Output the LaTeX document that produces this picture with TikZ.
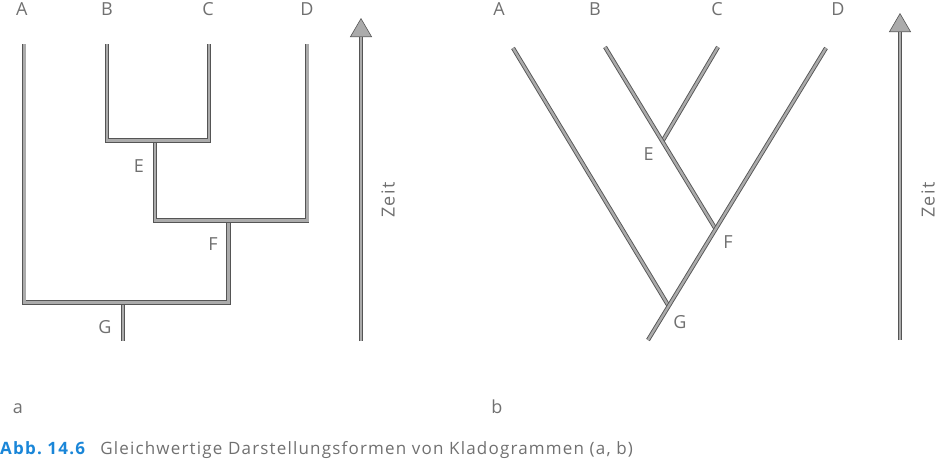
\documentclass[tikz,border=0pt]{standalone}
\usepackage{fontspec}
\setmainfont{Open Sans}[LetterSpace=7]
\usepackage{tikz}
\usetikzlibrary{arrows.meta}
\definecolor{edgegray}{HTML}{555555}
\definecolor{coregray}{HTML}{ABABAB}
\definecolor{textgray}{HTML}{707070}
\definecolor{abbblue}{HTML}{1A86D8}

\begin{document}
\begin{tikzpicture}[x=1pt, y=-1pt,
                    taxon/.style={anchor=base, text=textgray, font=\fontsize{18}{18}\selectfont, inner sep=0pt},
                    branch/.style={draw=edgegray, line width=0.9pt, double=coregray, double distance=2.4pt, line join=miter},
                    zeit/.style={draw=edgegray, line width=4pt, -{Triangle[width=22pt, length=19pt, line width=0.6pt, fill=coregray]},
                                 postaction={draw=coregray, line width=2.3pt, -, shorten >=19pt}},
                    zeitlabel/.style={text=textgray, font=\fontsize{18}{18}\selectfont, rotate=90, inner sep=0pt}]

    \useasboundingbox (0,0) rectangle (937,467);

    % a: rechtwinkliges Kladogramm
    \node[taxon] (aA) at (21.7,15) {A};
    \node[taxon] (aB) at (107,15)  {B};
    \node[taxon] (aC) at (208,15)  {C};
    \node[taxon] (aD) at (307,15)  {D};
    \node[taxon] (aE) at (139,172) {E};
    \node[taxon] (aF) at (213,250) {F};
    \node[taxon] (aG) at (105,333) {G};

    \coordinate (aAtop) at (24.3,44);
    \coordinate (aBtop) at (107,44);
    \coordinate (aCtop) at (209,44);
    \coordinate (aDtop) at (307.3,44);
    \coordinate (aEjoin) at (154.8,140.5);
    \coordinate (aFjoin) at (228.5,220.5);
    \coordinate (aGjoin) at (123,302.5);
    \coordinate (aroot) at (123,341);

    \draw[branch] (aGjoin) -- (aroot);
    \draw[branch] (aAtop) |- (aGjoin) -| (aFjoin);
    \draw[branch] (aEjoin) |- (aFjoin) -| (aDtop);
    \draw[branch] (aBtop) |- (aEjoin) -| (aCtop);

    \coordinate (azeit0) at (361,341);
    \coordinate (azeit1) at (361,18);
    \draw[zeit] (azeit0) -- (azeit1);
    \node[zeitlabel] (azeit) at (388,200) {Zeit};

    % b: schraeges Kladogramm
    \node[taxon] (bA) at (499,15)  {A};
    \node[taxon] (bB) at (595,15)  {B};
    \node[taxon] (bC) at (717,15)  {C};
    \node[taxon] (bD) at (838,15)  {D};
    \node[taxon] (bE) at (648.5,160) {E};
    \node[taxon] (bF) at (728,248) {F};
    \node[taxon] (bG) at (680,328) {G};

    \coordinate (bAtop) at (513,48);
    \coordinate (bBtop) at (605,47);
    \coordinate (bCtop) at (718,47);
    \coordinate (bDtop) at (826,48);
    \coordinate (bEjoin) at (662,142);
    \coordinate (bFjoin) at (715,228);
    \coordinate (bGjoin) at (668,305);
    \coordinate (broot) at (648,340);

    \draw[branch] (bCtop) -- (bEjoin);
    \draw[branch] (bBtop) -- (bFjoin);
    \draw[branch] (bAtop) -- (bGjoin);
    \draw[branch] (bDtop) -- (broot);

    \coordinate (bzeit0) at (900,340);
    \coordinate (bzeit1) at (900,13);
    \draw[zeit] (bzeit0) -- (bzeit1);
    \node[zeitlabel] (bzeit) at (928,200) {Zeit};

    % Beschriftung
    \node[taxon] (suba) at (18,413)  {a};
    \node[taxon] (subb) at (497,413) {b};
    \node[anchor=base west, inner sep=0pt, font=\fontsize{17}{17}\selectfont] (caption) at (0,454)
        {\textcolor{abbblue}{\bfseries Abb.\ 14.6}\hspace{0.9em}\textcolor{textgray}{Gleichwertige Darstellungsformen von Kladogrammen (a, b)}};
\end{tikzpicture}
\end{document}
